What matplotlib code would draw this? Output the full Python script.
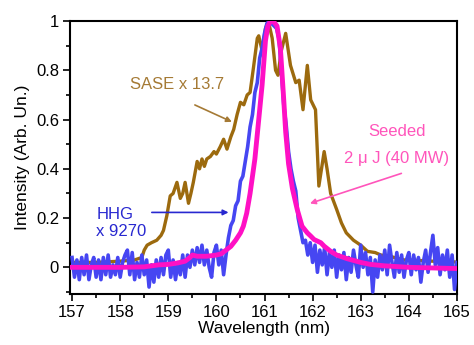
import numpy as np
import matplotlib
matplotlib.use("Agg")
import matplotlib.pyplot as plt
from matplotlib.ticker import MultipleLocator, FuncFormatter

plt.rcParams['font.family'] = ['Liberation Sans', 'DejaVu Sans']
plt.rcParams['font.size'] = 12

# SASE spectrum (x 13.7)
sase_wl = [157.0, 157.5, 158.0, 158.3, 158.45, 158.5, 158.56, 158.65, 158.76, 158.85,
           158.9, 158.97, 159.04, 159.1, 159.18, 159.25, 159.3, 159.35, 159.42, 159.47,
           159.52, 159.6, 159.65, 159.7, 159.75, 159.8, 159.875, 159.95, 160.0, 160.08,
           160.15, 160.22, 160.3, 160.36, 160.43, 160.5, 160.57, 160.64, 160.7, 160.77,
           160.85, 160.88, 160.95, 161.02, 161.08, 161.16, 161.23, 161.28, 161.35, 161.44,
           161.54, 161.65, 161.72, 161.8, 161.89, 161.96, 162.06, 162.13, 162.24, 162.3,
           162.375, 162.5, 162.6, 162.7, 162.85, 163.0, 163.14, 163.3, 163.42, 163.6,
           163.9, 164.2, 164.5, 164.94]
sase_int = [0.02, 0.02, 0.025, 0.03, 0.04, 0.07, 0.09, 0.10, 0.11, 0.13,
            0.15, 0.21, 0.29, 0.30, 0.345, 0.28, 0.30, 0.345, 0.26, 0.30,
            0.345, 0.43, 0.40, 0.44, 0.41, 0.44, 0.45, 0.47, 0.46, 0.49,
            0.52, 0.48, 0.53, 0.56, 0.62, 0.67, 0.66, 0.70, 0.71, 0.81,
            0.93, 0.94, 0.88, 0.97, 1.0, 0.93, 0.80, 0.78, 0.88, 0.95,
            0.82, 0.75, 0.76, 0.64, 0.82, 0.68, 0.64, 0.33, 0.47, 0.40,
            0.30, 0.235, 0.18, 0.14, 0.11, 0.09, 0.065, 0.06, 0.05, 0.045,
            0.03, 0.028, 0.025, 0.022]

# HHG spectrum (x 9270), sampled every 0.05 nm from 157 to 165
hhg_int = [0.04, -0.04, 0.03, -0.05, 0.04, -0.03, 0.05, -0.05, 0.01, 0.04,
           -0.04, 0.03, -0.05, 0.04, -0.03, 0.05, -0.04, 0.01, -0.03, 0.04,
           -0.04, 0.02, 0.05, 0.07, -0.03, 0.06, -0.05, 0.02, -0.04, 0.05,
           -0.03, 0.03, -0.08, 0.01, -0.06, 0.03, -0.04, 0.04, -0.03, 0.05,
           0.07, -0.04, 0.03, -0.05, 0.02, -0.03, 0.05, -0.04, 0.05, 0.00,
           0.07, 0.01, 0.08, 0.02, 0.09, 0.01, 0.07, 0.00, -0.04, 0.06,
           0.09, 0.01, 0.07, -0.03, 0.05, 0.12, 0.17, 0.19, 0.25, 0.27,
           0.35, 0.37, 0.43, 0.49, 0.57, 0.62, 0.71, 0.75, 0.85, 0.89,
           0.95, 0.99, 1.00, 0.99, 0.98, 0.97, 0.93, 0.80, 0.66, 0.58,
           0.47, 0.40, 0.35, 0.31, 0.20, 0.15, 0.10, 0.11, 0.05, 0.10,
           0.02, 0.09, -0.02, 0.07, 0.01, 0.08, -0.03, 0.06, 0.00, 0.07,
           -0.04, 0.05, -0.01, 0.06, -0.05, 0.04, -0.02, 0.07, 0.01, -0.04,
           0.09, 0.00, 0.06, -0.03, 0.04, -0.10, 0.03, -0.04, 0.05, -0.01,
           0.07, -0.03, 0.09, 0.02, -0.04, 0.06, -0.02, 0.05, -0.04, 0.03,
           0.06, -0.03, 0.05, -0.01, 0.04, -0.06, 0.02, 0.07, -0.02, 0.06,
           0.13, 0.01, 0.08, -0.03, 0.05, -0.01, 0.07, -0.04, 0.05, -0.09,
           0.02]
hhg_wl = np.linspace(157.0, 165.0, len(hhg_int))

# seeded spectrum, 2 uJ (40 MW)
seed_wl = [157.0, 158.0, 158.5, 158.8, 159.0, 159.2, 159.35, 159.45, 159.5, 159.6,
           159.8, 160.0, 160.1, 160.2, 160.3, 160.4, 160.5, 160.56, 160.63, 160.7,
           160.75, 160.8, 160.88, 160.95, 161.02, 161.07, 161.125, 161.2, 161.26, 161.33,
           161.4, 161.44, 161.5, 161.58, 161.68, 161.78, 161.89, 161.96, 162.03, 162.17,
           162.24, 162.375, 162.5, 162.72, 163.0, 163.2, 163.5, 164.0, 165.0]
seed_int = [0.0, 0.0, 0.002, 0.01, 0.012, 0.018, 0.025, 0.04, 0.05, 0.045,
            0.045, 0.05, 0.055, 0.07, 0.085, 0.11, 0.14, 0.167, 0.22, 0.30,
            0.37, 0.44, 0.60, 0.74, 0.92, 0.98, 1.0, 0.995, 0.98, 0.89,
            0.68, 0.55, 0.42, 0.32, 0.235, 0.167, 0.14, 0.127, 0.113, 0.10,
            0.086, 0.065, 0.05, 0.035, 0.02, 0.012, 0.006, 0.0, -0.005]

brown = "#9C6A0E"
blue = "#4646F2"
pink = "#FF10C4"

fig = plt.figure(figsize=(4.74, 3.45), dpi=100)
ax = fig.add_axes([0.148, 0.148, 0.816, 0.791])

ax.plot(sase_wl, sase_int, color=brown, lw=2.4, zorder=2)
ax.plot(hhg_wl, hhg_int, color=blue, lw=2.6, zorder=3)
ax.plot(seed_wl, seed_int, color=pink, lw=3.5, zorder=4)

ax.set_xlim(156.96, 165.0)
ax.set_ylim(-0.108, 1.0)
ax.xaxis.set_major_locator(MultipleLocator(1))
ax.xaxis.set_minor_locator(MultipleLocator(0.5))
ax.yaxis.set_major_locator(MultipleLocator(0.2))
ax.yaxis.set_minor_locator(MultipleLocator(0.1))
ax.yaxis.set_major_formatter(FuncFormatter(lambda v, p: "{:g}".format(round(v, 2))))
ax.tick_params(which="major", length=5, width=1.2, direction="out", labelsize=12, pad=3)
ax.tick_params(which="minor", length=3, width=1.2, direction="out")
for s in ax.spines.values():
    s.set_linewidth(1.5)

ax.set_xlabel("Wavelength (nm)", fontsize=12.5, labelpad=1)
ax.set_ylabel("Intensity (Arb. Un.)", fontsize=12.5, labelpad=4)

# annotations
ax.text(159.19, 0.742, "SASE x 13.7", color="#A57A35", ha="center", va="center", fontsize=12)
ax.annotate("", xy=(160.375, 0.586), xytext=(159.5, 0.664),
            arrowprops=dict(arrowstyle="-|>", color="#A57A35", lw=1.2, mutation_scale=8))

ax.text(157.5, 0.18, "HHG\nx 9270", color="#2828D0", ha="left", va="center",
        fontsize=12, linespacing=1.1)
ax.annotate("", xy=(160.31, 0.223), xytext=(158.6, 0.223),
            arrowprops=dict(arrowstyle="-|>", color="#2828D0", lw=1.2, mutation_scale=8))

ax.text(163.75, 0.55, "Seeded", color="#FF55BB", ha="center", va="center", fontsize=12)
ax.text(163.75, 0.44, "2 \u03bc J (40 MW)", color="#FF55BB", ha="center", va="center", fontsize=12)
ax.annotate("", xy=(161.89, 0.256), xytext=(163.9, 0.385),
            arrowprops=dict(arrowstyle="-|>", color="#FF55BB", lw=1.2, mutation_scale=8))

fig.savefig("out.png", dpi=100)
